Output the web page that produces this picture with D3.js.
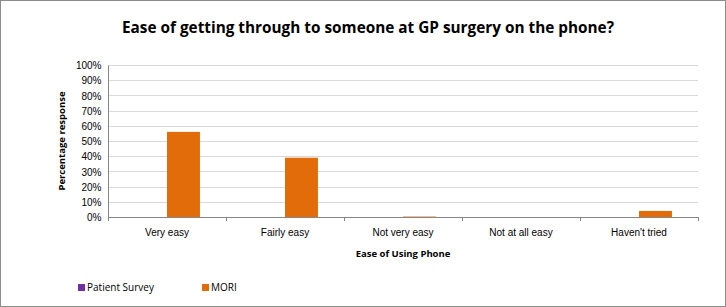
<!DOCTYPE html>
<html>
<head>
<meta charset="utf-8">
<script src="https://d3js.org/d3.v7.min.js"></script>
<style>
  body { margin: 0; background: #fff; }
  svg { display: block; font-family: "Open Sans", "Liberation Sans", sans-serif; }
</style>
</head>
<body>
<div id="chart"></div>
<script>
// chart values
let categories = ["Very easy", "Fairly easy", "Not very easy", "Not at all easy", "Haven't tried"];
let seriesNames = ["Patient Survey", "MORI"];
let patientSurvey = [0, 0, 0, 0, 0];
let mori = [0.56, 0.39, 0.003, 0, 0.04];
let yTicks = [0, 0.1, 0.2, 0.3, 0.4, 0.5, 0.6, 0.7, 0.8, 0.9, 1];
let colors = ["#7030A0", "#E36C0A"];

let totalWidth = 726;
let totalHeight = 307;
let plot = { left: 108, right: 698, top: 65, bottom: 217 };

let svg = d3.select("#chart")
    .append("svg")
    .attr("width", totalWidth)
    .attr("height", totalHeight);

// outer border
svg.append("rect")
    .attr("x", 0.5).attr("y", 0.5)
    .attr("width", totalWidth - 1).attr("height", totalHeight - 1)
    .attr("fill", "#fff")
    .attr("stroke", "#8c8c8c");

let xScale = d3.scaleBand()
    .domain(categories)
    .range([plot.left, plot.right]);

// two bars per category, gap width ~158%
let xInner = d3.scaleBand()
    .domain(seriesNames)
    .range([0, xScale.bandwidth()])
    .paddingOuter(0.79);

let yScale = d3.scaleLinear()
    .domain([0, 1])
    .range([plot.bottom, plot.top]);

// gridlines
svg.append("g")
    .selectAll("line")
    .data(yTicks.slice(1))
    .enter()
    .append("line")
    .attr("x1", plot.left)
    .attr("x2", plot.right)
    .attr("y1", d => Math.round(yScale(d)) + 0.5)
    .attr("y2", d => Math.round(yScale(d)) + 0.5)
    .attr("stroke", "#d9d9d9");

// bars
let data = [];
categories.forEach((c, i) => {
    data.push({ cat: c, series: seriesNames[0], value: patientSurvey[i], color: colors[0] });
    data.push({ cat: c, series: seriesNames[1], value: mori[i], color: colors[1] });
});

svg.append("g")
    .selectAll("rect")
    .data(data)
    .enter()
    .append("rect")
    .attr("x", d => xScale(d.cat) + xInner(d.series))
    .attr("width", xInner.bandwidth())
    .attr("y", d => yScale(d.value))
    .attr("height", d => yScale(0) - yScale(d.value))
    .attr("fill", d => d.color);

// y axis
let yAxis = d3.axisLeft(yScale)
    .tickValues(yTicks)
    .tickFormat(d3.format(".0%"))
    .tickSize(4)
    .tickPadding(3);

let yG = svg.append("g")
    .attr("transform", `translate(${plot.left + 0.5}, 0.5)`)
    .call(yAxis);
yG.select(".domain").attr("stroke", "#868686").attr("d", `M0,${plot.top}V${plot.bottom}`);
yG.selectAll(".tick line").attr("stroke", "#868686").attr("x1", -4);
yG.selectAll(".tick text").attr("font-size", "10px").attr("fill", "#000");

// x axis
let xAxis = d3.axisBottom(xScale).tickSize(0).tickPadding(11);
let xG = svg.append("g")
    .attr("transform", `translate(0, ${plot.bottom + 0.5})`)
    .call(xAxis);
xG.select(".domain").attr("stroke", "#868686").attr("d", `M${plot.left},0H${plot.right}`);
xG.selectAll(".tick text").attr("font-size", "10px").attr("fill", "#000");

// category boundary ticks
svg.append("g")
    .selectAll("line")
    .data(categories.concat([null]))
    .enter()
    .append("line")
    .attr("x1", (d, i) => Math.round(plot.left + i * xScale.step()) + 0.5)
    .attr("x2", (d, i) => Math.round(plot.left + i * xScale.step()) + 0.5)
    .attr("y1", plot.bottom)
    .attr("y2", plot.bottom + 4)
    .attr("stroke", "#868686");

// title
svg.append("text")
    .attr("x", 368)
    .attr("y", 33)
    .attr("text-anchor", "middle")
    .attr("font-size", "16px")
    .attr("font-weight", "bold")
    .attr("fill", "#000")
    .attr("textLength", 492)
    .attr("lengthAdjust", "spacingAndGlyphs")
    .text("Ease of getting through to someone at GP surgery on the phone?");

// axis titles
svg.append("text")
    .attr("x", 403)
    .attr("y", 257)
    .attr("text-anchor", "middle")
    .attr("font-size", "9.5px")
    .attr("font-weight", "bold")
    .text("Ease of Using Phone");

svg.append("text")
    .attr("transform", `translate(65, ${(plot.top + plot.bottom) / 2}) rotate(-90)`)
    .attr("text-anchor", "middle")
    .attr("font-size", "9.5px")
    .attr("font-weight", "bold")
    .text("Percentage response");

// legend
let legendX = [78, 202];
let legend = svg.selectAll(".legend")
    .data(seriesNames)
    .enter()
    .append("g")
    .attr("class", "legend")
    .attr("transform", (d, i) => `translate(${legendX[i]}, 284)`);

legend.append("rect")
    .attr("width", 7)
    .attr("height", 7)
    .attr("fill", (d, i) => colors[i]);

legend.append("text")
    .attr("x", 9)
    .attr("y", 7)
    .attr("font-size", "10px")
    .attr("fill", "#000")
    .text(d => d);
</script>
</body>
</html>
